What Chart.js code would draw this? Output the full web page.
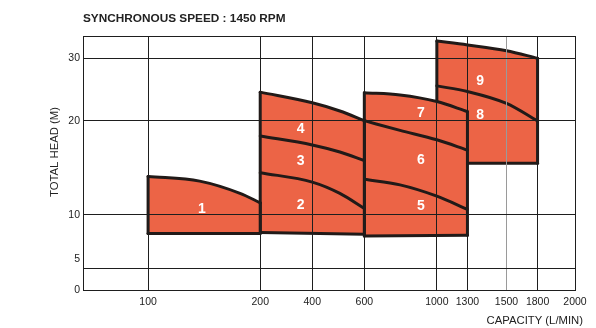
<!DOCTYPE html>
<html lang="en">
<head>
<meta charset="UTF-8">
<title>Pump selection chart - 1450 RPM</title>
<script src="https://cdn.jsdelivr.net/npm/chart.js"></script>
<style>
    body { margin: 0; background: #ffffff; }
    canvas { display: block; }
</style>
</head>
<body>
<canvas id="pumpChart" width="596" height="328"></canvas>
<script>
// axis ticks
const capacityTicks = [100, 200, 400, 600, 1000, 1300, 1500, 1800, 2000];
const headTicks = [0, 5, 10, 20, 30];

// pump 1
const p1Cap = [100, 146, 182, 200];
const p1Top = [14.1, 13.6, 12.3, 11.3];
const p1Base = [7.9, 7.9];

// pumps 2 - 4
const p24Cap = [200, 400, 506, 600];
const p24Top = [24.6, 22.9, 21.6, 20.05];
const p34Line = [18.4, 17.45, 16.7, 15.8];
const p23Line = [14.5, 13.5, 12.3, 10.7];
const p24Base = [8.0, 7.8];

// pumps 5 - 7
const p57Cap = [600, 797, 1000, 1300];
const p57Top = [24.5, 24.15, 23.1, 21.5];
const p67Line = [20.05, 19.0, 18.0, 16.9];
const p56Line = [13.8, 13.2, 12.0, 10.6];
const p57Base = [7.6, 7.7];

// pumps 8 - 9
const p89Cap = [1000, 1300, 1500, 1800];
const p89Top = [32.7, 32.1, 31.2, 30.0];
const p89Line = [25.6, 24.7, 22.8, 20.0];
const p89Base = [15.5, 15.5];

// model numbers inside the areas
const modelNames = ['1', '2', '3', '4', '5', '6', '7', '8', '9'];
const modelCap = [148, 355, 355, 355, 912, 912, 912, 1365, 1365];
const modelHead = [10.6, 11.1, 15.7, 19.1, 10.9, 15.8, 21.2, 21.0, 26.3];

const FILL = '#ec6446';
const OUTLINE = '#211a18';
const GRID = '#1e1e1e';
const TEXT = '#222222';
const FONT = '"Liberation Sans", Arial, Helvetica, sans-serif';

// linear scale whose spacing between the given stops is set by hand
class PiecewiseScale extends Chart.LinearScale {
    static id = 'piecewise';
    static defaults = {};

    getPixelForValue(value) {
        if (value === null || value === undefined) return NaN;
        const stops = this.options.stops;
        let i = 1;
        while (i < stops.length - 1 && value > stops[i][0]) i++;
        const [v0, d0] = stops[i - 1];
        const [v1, d1] = stops[i];
        return this.getPixelForDecimal(d0 + (value - v0) / (v1 - v0) * (d1 - d0));
    }

    getValueForPixel(pixel) {
        const stops = this.options.stops;
        const d = this.getDecimalForPixel(pixel);
        let i = 1;
        while (i < stops.length - 1 && d > stops[i][1]) i++;
        const [v0, d0] = stops[i - 1];
        const [v1, d1] = stops[i];
        return v0 + (d - d0) / (d1 - d0) * (v1 - v0);
    }
}
Chart.register(PiecewiseScale);

const datasets = [];

function points(cap, heads) {
    return cap.map((x, i) => ({ x: x, y: heads[i] }));
}

// one pump family: filled area, outline and the curves between models
function addGroup(cap, top, base, lines, order) {
    const first = cap[0];
    const last = cap[cap.length - 1];
    const line = {
        type: 'line',
        borderColor: OUTLINE,
        borderWidth: 3,
        borderCapStyle: 'round',
        borderJoinStyle: 'round',
        tension: 0,
        fill: false,
        order: order
    };
    const baseIndex = datasets.length;
    datasets.push({ ...line, data: [{ x: first, y: base[0] }, { x: last, y: base[1] }] });
    datasets.push({ ...line, data: [{ x: first, y: base[0] }, { x: first, y: top[0] }] });
    datasets.push({ ...line, data: [{ x: last, y: base[1] }, { x: last, y: top[top.length - 1] }] });
    lines.forEach(l => {
        datasets.push({ ...line, cubicInterpolationMode: 'monotone', data: points(cap, l) });
    });
    datasets.push({
        ...line,
        cubicInterpolationMode: 'monotone',
        fill: baseIndex,
        backgroundColor: FILL,
        order: order + 1,
        data: points(cap, top)
    });
}

addGroup(p89Cap, p89Top, p89Base, [p89Line], 40);
addGroup(p57Cap, p57Top, p57Base, [p67Line, p56Line], 30);
addGroup(p24Cap, p24Top, p24Base, [p34Line, p23Line], 20);
addGroup(p1Cap, p1Top, p1Base, [], 10);

const textPlugin = {
    id: 'pumpText',
    afterDraw(chart) {
        const { ctx, chartArea, scales } = chart;
        ctx.save();
        ctx.textBaseline = 'middle';

        ctx.fillStyle = '#ffffff';
        ctx.font = 'bold 14px ' + FONT;
        ctx.textAlign = 'center';
        modelNames.forEach((name, i) => {
            ctx.fillText(name, scales.x.getPixelForValue(modelCap[i]), scales.y.getPixelForValue(modelHead[i]));
        });

        ctx.fillStyle = TEXT;
        ctx.font = 'bold 11.8px ' + FONT;
        ctx.textAlign = 'left';
        ctx.fillText('SYNCHRONOUS SPEED : 1450 RPM', chartArea.left, 19);

        ctx.font = '11.3px ' + FONT;
        ctx.textAlign = 'right';
        ctx.fillText('CAPACITY (L/MIN)', chartArea.right + 8, 321);

        ctx.translate(55, 152);
        ctx.rotate(-Math.PI / 2);
        ctx.textAlign = 'center';
        ctx.fillText('TOTAL HEAD (M)', 0, 0);
        ctx.restore();
    }
};

new Chart(document.getElementById('pumpChart'), {
    type: 'line',
    data: { datasets: datasets },
    plugins: [textPlugin],
    options: {
        responsive: false,
        animation: false,
        events: [],
        layout: { padding: { left: 0, top: 36, right: 21, bottom: 0 } },
        elements: { point: { radius: 0 } },
        plugins: {
            legend: { display: false },
            tooltip: { enabled: false }
        },
        scales: {
            x: {
                type: 'piecewise',
                min: 50,
                max: 2000,
                stops: [[50, 0], [100, 0.1323], [200, 0.3602], [400, 0.466], [600, 0.5718],
                        [1000, 0.7192], [1300, 0.7814], [1500, 0.8608], [1800, 0.9239], [2000, 1]],
                afterBuildTicks: axis => { axis.ticks = capacityTicks.map(v => ({ value: v })); },
                afterFit: axis => { axis.height = 38; },
                grid: {
                    z: 1,
                    drawTicks: false,
                    color: c => (c.tick && c.tick.value === 1500 ? '#9a9a9a' : GRID)
                },
                // drawn after the grid so the axis line lands on the plot edge
                border: { color: GRID, z: 2 },
                ticks: {
                    autoSkip: false,
                    maxRotation: 0,
                    minRotation: 0,
                    padding: 6,
                    color: TEXT,
                    font: { family: FONT, size: 10.5 },
                    callback: v => String(v)
                }
            },
            y: {
                type: 'piecewise',
                min: 0,
                max: 33.5,
                stops: [[0, 0], [5, 0.122], [10, 0.2953], [20, 0.6654], [30, 0.9122], [33.5, 1]],
                afterBuildTicks: axis => {
                    axis.ticks = [0, 3.4, 5, 10, 20, 30, 33.5].map(v => ({ value: v }));
                },
                afterFit: axis => { axis.width = 83; },
                grid: {
                    z: 1,
                    drawTicks: false,
                    color: c => (c.tick && c.tick.value === 5 ? 'rgba(0,0,0,0)' : GRID)
                },
                border: { color: GRID, z: 2 },
                ticks: {
                    padding: 3,
                    color: TEXT,
                    font: { family: FONT, size: 10.5 },
                    callback: v => (headTicks.includes(v) ? String(v) : '')
                }
            }
        }
    }
});
</script>
</body>
</html>
